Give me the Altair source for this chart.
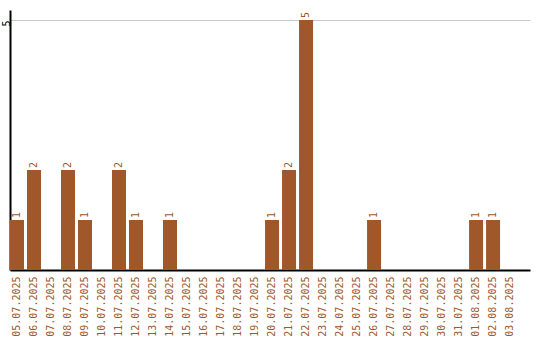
import altair as alt
import pandas as pd

days = [
    "05.07.2025", "06.07.2025", "07.07.2025", "08.07.2025", "09.07.2025",
    "10.07.2025", "11.07.2025", "12.07.2025", "13.07.2025", "14.07.2025",
    "15.07.2025", "16.07.2025", "17.07.2025", "18.07.2025", "19.07.2025",
    "20.07.2025", "21.07.2025", "22.07.2025", "23.07.2025", "24.07.2025",
    "25.07.2025", "26.07.2025", "27.07.2025", "28.07.2025", "29.07.2025",
    "30.07.2025", "31.07.2025", "01.08.2025", "02.08.2025", "03.08.2025",
]
counts = [1, 2, 0, 2, 1, 0, 2, 1, 0, 1,
          0, 0, 0, 0, 0, 1, 2, 5, 0, 0,
          0, 1, 0, 0, 0, 0, 0, 1, 1, 0]

BAR = "#A0572A"
FONT = "DejaVu Sans Mono"

df = pd.DataFrame({"day": days, "count": counts})
df["label"] = df["count"].apply(lambda v: str(v) if v > 0 else "")

x = alt.X(
    "day:N",
    sort=days,
    title=None,
    scale=alt.Scale(paddingInner=0.176, paddingOuter=0.38, align=0),
    axis=alt.Axis(
        labelAngle=270, labelColor=BAR, labelFont=FONT, labelFontSize=10,
        ticks=False, labelPadding=6, domainColor="black", domainWidth=2,
        grid=False, labelOverlap=False,
    ),
)
y = alt.Y(
    "count:Q",
    title=None,
    scale=alt.Scale(domain=[0, 5.2], nice=False),
    axis=alt.Axis(
        values=[5], labelAngle=270, labelAlign="right", labelBaseline="middle",
        labelColor="black", labelFont=FONT, labelFontSize=10, ticks=False,
        labelPadding=4, domainColor="black", domainWidth=2,
        grid=True, gridColor="#c8c8c8", gridWidth=1,
    ),
)

bars = alt.Chart(df).mark_bar(color=BAR).encode(x=x, y=y)
labels = alt.Chart(df).mark_text(
    angle=270, align="left", baseline="middle", dx=2,
    color=BAR, font=FONT, fontSize=10,
).encode(x=x, y=y, text="label:N")

chart = (
    (bars + labels)
    .properties(width=520, height=260, padding={"left": 10, "top": 10, "right": 10, "bottom": 70},
                autosize=alt.AutoSizeParams(type="none"), background="white")
    .configure_view(strokeWidth=0)
)

chart.save("out.html", embed_options={"renderer": "svg", "actions": False})
